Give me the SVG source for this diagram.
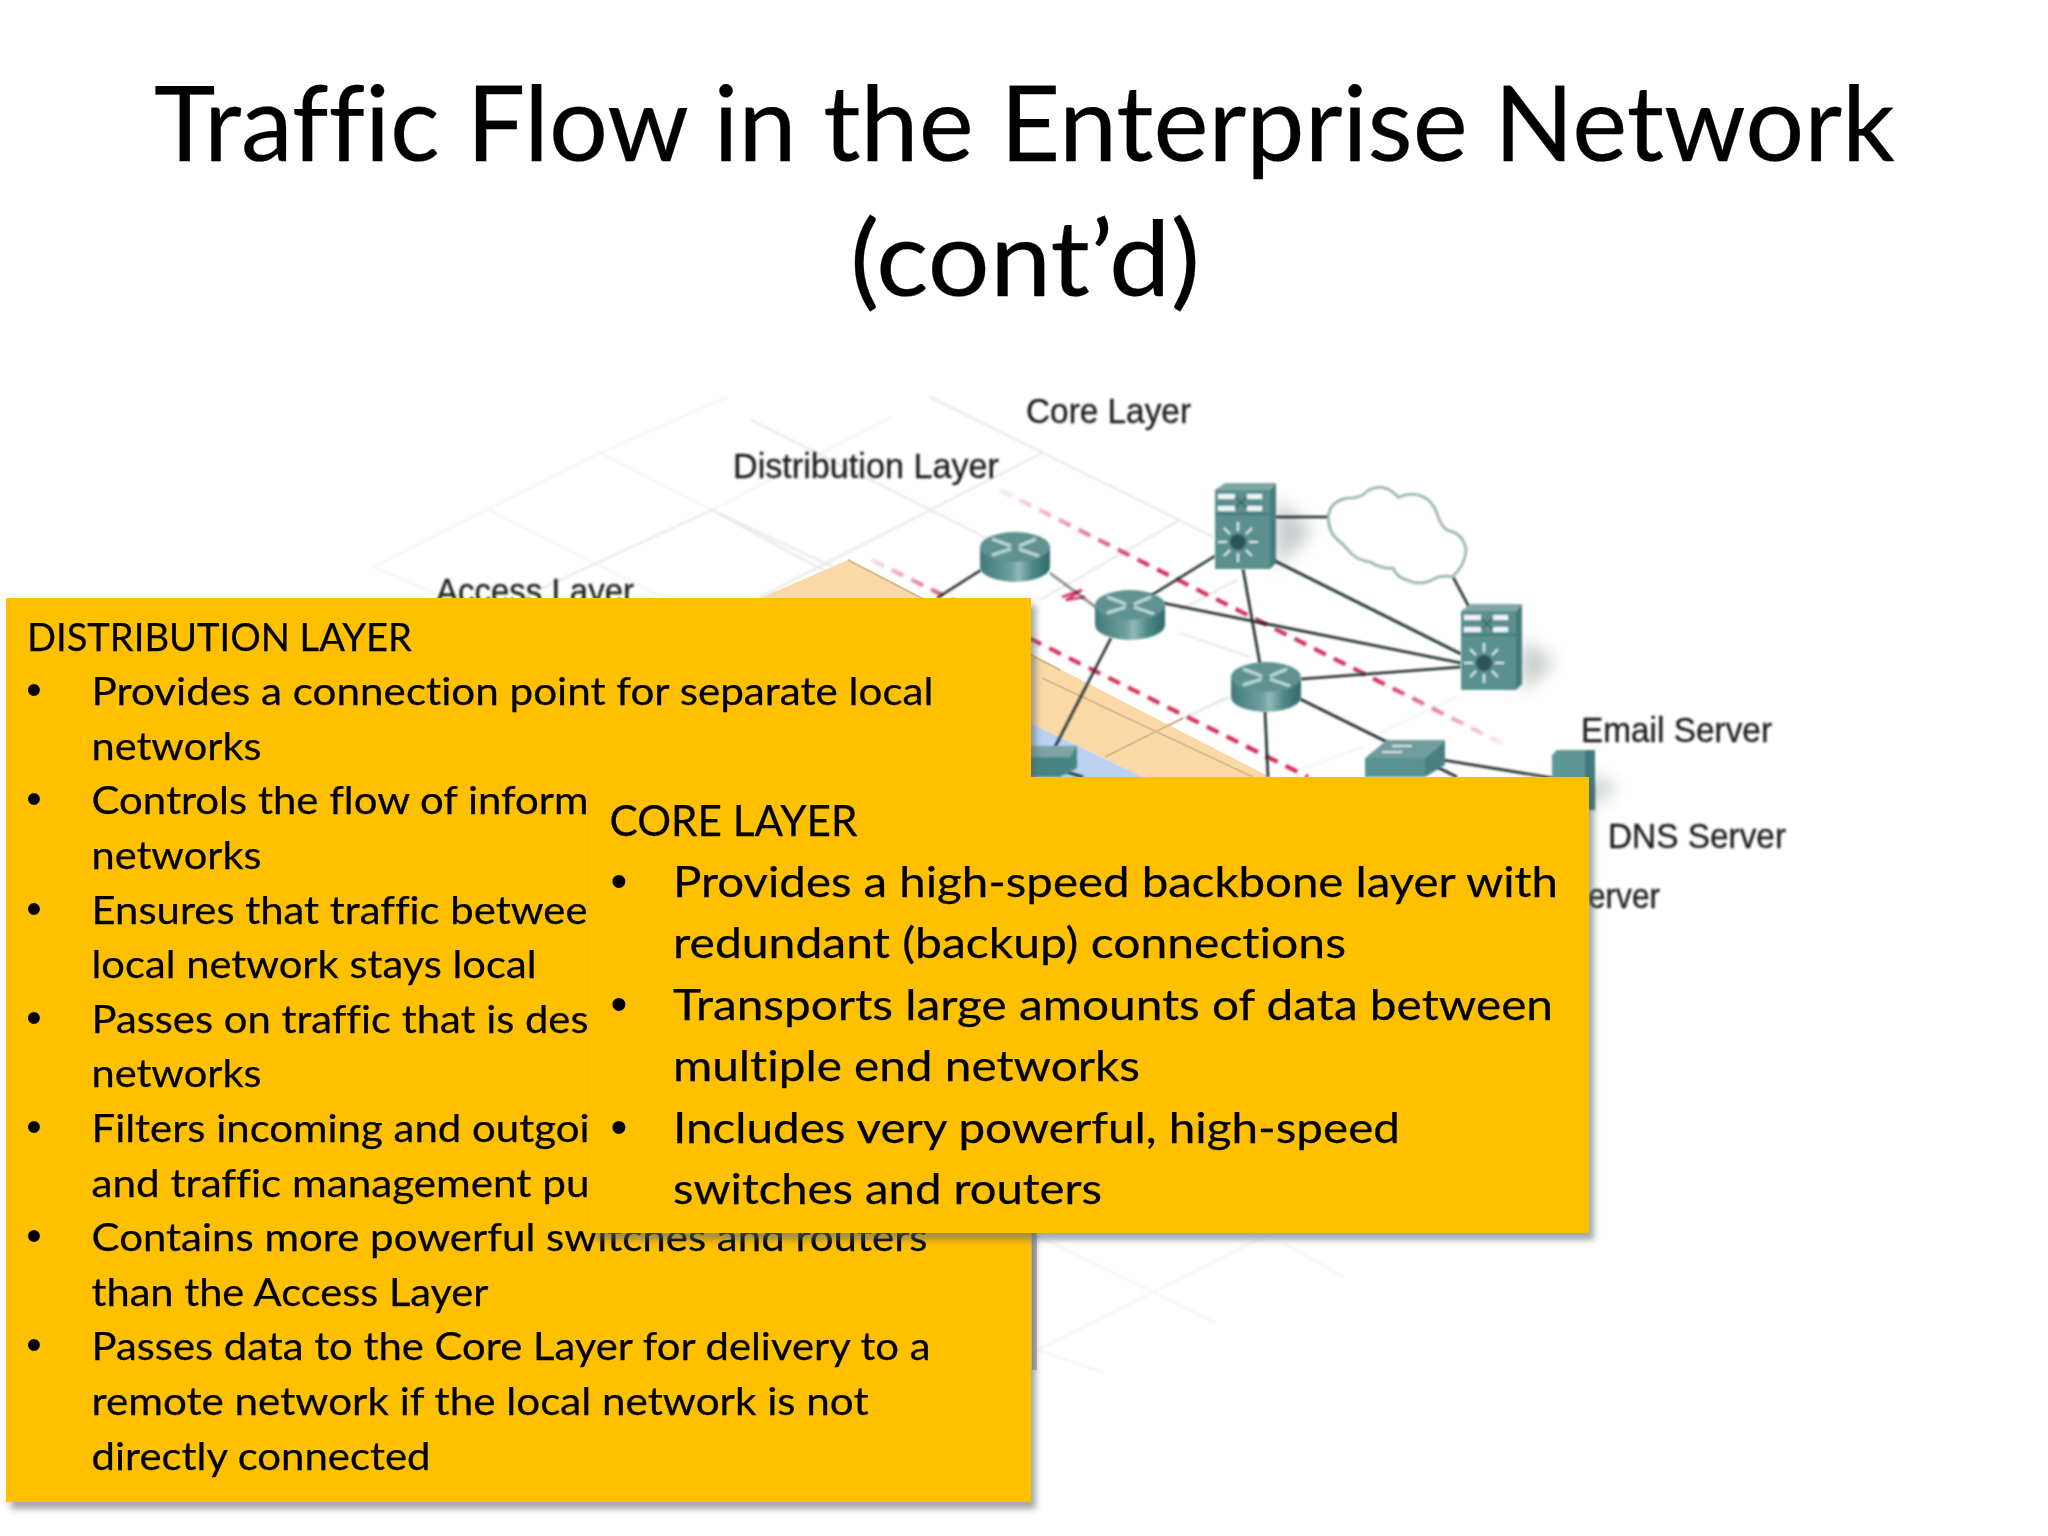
<svg xmlns="http://www.w3.org/2000/svg" width="2048" height="1536" viewBox="0 0 2048 1536">
<style>
.t{font-family:"Lato","Liberation Sans",sans-serif;fill:#000;stroke:#000;stroke-width:.25;font-variant-ligatures:none;}
.title{font-size:104px;}
.d{font-size:38.5px;}
.c{font-size:43px;}
.b{font-family:"Liberation Sans",sans-serif;text-anchor:middle;stroke:none;}
.d .b{font-size:44px;}
.c .b{font-size:48px;}
.lbl{font-family:"Liberation Sans",Arial,sans-serif;font-size:35px;fill:#1c1c1c;stroke:#1c1c1c;stroke-width:.3;}
.grid{stroke:#e8e8e8;stroke-width:2.2;fill:none;}
.faint{stroke:#f4f4f4;stroke-width:2.2;fill:none;}
.tan{stroke:#d9bd8f;stroke-width:2;fill:none;}
.link{stroke:#1e2a2a;stroke-width:2.6;fill:none;}
.dash{stroke-width:4.2;stroke-dasharray:13 9;fill:none;}
.box{fill:#FFC000;filter:url(#sh);}
</style>
<defs>
<filter id="sh" x="-5%" y="-5%" width="110%" height="110%"><feDropShadow dx="5" dy="7" stdDeviation="3" flood-color="#5a6464" flood-opacity="0.55"/></filter>
<filter id="soft" x="-20%" y="-20%" width="140%" height="140%"><feGaussianBlur stdDeviation="0.8"/></filter>
<filter id="blurS" x="-80%" y="-80%" width="260%" height="260%"><feGaussianBlur stdDeviation="9"/></filter>
<linearGradient id="cyl" x1="0" x2="1" y1="0" y2="0"><stop offset="0" stop-color="#3f7a7a"/><stop offset="0.45" stop-color="#6f9f9e"/><stop offset="0.55" stop-color="#93b9b7"/><stop offset="0.75" stop-color="#4f8888"/><stop offset="1" stop-color="#2f6a6a"/></linearGradient>
<linearGradient id="fadeUp" gradientUnits="userSpaceOnUse" x1="1000" y1="490" x2="1505" y2="745"><stop offset="0" stop-color="#d22a55" stop-opacity="0.1"/><stop offset="0.3" stop-color="#d22a55" stop-opacity="0.95"/><stop offset="0.75" stop-color="#d22a55" stop-opacity="0.95"/><stop offset="1" stop-color="#d22a55" stop-opacity="0.08"/></linearGradient>
<linearGradient id="fadeLow" gradientUnits="userSpaceOnUse" x1="872" y1="560" x2="1308" y2="777"><stop offset="0" stop-color="#d22a55" stop-opacity="0.15"/><stop offset="0.2" stop-color="#d22a55" stop-opacity="0.9"/><stop offset="1" stop-color="#d22a55"/></linearGradient>
<g id="router">
<path d="M-35 -10 V10 A35 15 0 0 0 35 10 V-10Z" fill="url(#cyl)"/>
<ellipse cx="0" cy="-10" rx="35" ry="15" fill="#5f9291"/>
<path d="M-23 -18 L-4 -11 M21 -18 L4 -11 M-23 -2 L-4 -8 M24 -1 L4 -8" stroke="#bcd9d6" stroke-width="3" fill="none"/>
</g>
<g id="mls">
<path d="M0 7 H55 V86 H0Z" fill="#5a9090"/>
<path d="M55 7 L61 0 V80 L55 86Z" fill="#477c7c"/>
<path d="M0 7 L10 0 H61 L55 7Z" fill="#7fa7a6"/>
<path d="M0 31 H55" stroke="#3f7676" stroke-width="1.500"/>
<path d="M3 13.500 H20 M32 13.500 H47 M3 25.500 H20 M32 25.500 H47" stroke="#eef5f4" stroke-width="5"/>
<path d="M20 14 L32 25 M20 25 L32 14" stroke="#2f5f5f" stroke-width="1.500"/>
<circle cx="23" cy="59" r="8" fill="#2d5454"/>
<path d="M23 39 V48 M23 70 V79 M3 59 H12 M34 59 H43 M9 45 L15 51 M37 45 L31 51 M9 73 L15 67 M37 73 L31 67" stroke="#d8eae8" stroke-width="2.200"/>
</g>
</defs>
<rect width="2048" height="1536" fill="#fff"/>

<g id="floor-grid" filter="url(#soft)">
<g class="faint">
<path d="M600 453 L727 397"/><path d="M712 510 L891 417"/>
<path d="M373 567 L600 453"/><path d="M600 453 L712 510"/><path d="M489 510 L663 597"/><path d="M373 567 L445 597"/>
<path d="M1040 1237 L1216 1323"/><path d="M1038 1350 L1267 1235"/><path d="M1038 1350 L1104 1373"/><path d="M1283 1243 L1344 1277"/>
<path d="M1287 567 L1460 650"/><path d="M1300 770 L1363 747"/><path d="M1380 733 L1457 697"/>
</g>
<g class="grid">
<path d="M712 510 L833 567"/>
<path d="M523 597 L712 510"/><path d="M712 510 L860 590"/>
<path d="M760 597 L1042 453"/><path d="M751 420 L1010 550"/><path d="M930 397 L1213 537"/>
<path d="M1180 610 L1237 580"/><path d="M1180 633 L1250 657"/><path d="M1180 720 L1230 697"/>
<path d="M1040 600 L1180 520"/><path d="M1105 757 L1227 697"/>
</g>
</g>
<g id="zones">
<path d="M848 560 L1270 777 H1143 L1030 723 L760 598Z" fill="#fbd9a6"/>
<path d="M1030 723 L1143 777 H1030Z" fill="#bcd2f0"/>
<path class="tan" d="M1042 678 L1253 777"/><path class="tan" d="M1105 757 L1183 718"/><path class="tan" d="M848 560 L1060 670"/>
</g>
<g id="layer-lines" filter="url(#soft)">
<path class="dash" stroke="url(#fadeUp)" d="M1000 490 L1505 745"/>
<path class="dash" stroke="url(#fadeLow)" d="M872 560 L1308 777"/>
<path d="M1062 597 L1082 590 L1066 600 L1085 597" stroke="#d8345f" stroke-width="2.600" fill="none"/>
</g>
<g id="device-shadows" filter="url(#blurS)" fill="#8e9898" opacity="0.55">
<path d="M1276 500 L1312 530 L1276 568Z"/>
<path d="M1522 640 L1555 662 L1522 692Z"/>
<path d="M1592 775 L1616 785 L1594 808Z"/>
</g>
<g id="connectors" filter="url(#soft)">
<path class="link" d="M1275 517 H1330"/>
<path class="link" d="M1453 577 L1469 607"/>
<path class="link" d="M981 570 L937 598"/>
<path class="link" stroke-opacity="0.55" d="M1050 573 L1097 608"/>
<path class="link" d="M1147 598 L1215 556"/>
<path class="link" d="M1163 603 L1461 663"/>
<path class="link" d="M1243 569 L1260 664"/>
<path class="link" d="M1273 560 L1461 654"/>
<path class="link" d="M1301 679 L1461 667"/>
<path class="link" d="M1300 699 L1387 742"/>
<path class="link" d="M1265 711 L1268 777"/>
<path class="link" d="M1111 638 L1055 747"/>
<path class="link" d="M1443 760 L1553 778"/>
<path class="link" d="M1437 767 L1457 777"/>
<path class="link" d="M1067 772 L1083 777"/>
</g>
<g filter="url(#soft)">
<g id="router-1" transform="translate(1015 557)"><use href="#router"/></g>
<g id="router-2" transform="translate(1130 615)"><use href="#router"/></g>
<g id="router-3" transform="translate(1266 687)"><use href="#router"/></g>
<g id="core-switch-1" transform="translate(1215 483)"><use href="#mls"/></g>
<g id="core-switch-2" transform="translate(1461 604)"><use href="#mls"/></g>
<g id="cloud" transform="translate(1180 470) scale(.3333)"><path d="M445 140 Q450 95 500 85 Q530 85 548 75 Q585 40 625 58 Q645 70 655 82 Q705 60 745 90 Q765 110 770 130 Q785 175 805 182 Q850 190 858 240 Q855 285 818 320 Q785 315 765 325 Q725 350 680 330 Q650 320 640 295 Q600 295 570 275 Q525 270 505 240 Q490 225 480 215 Q445 190 445 140Z" fill="#fff" stroke="#9ab8b5" stroke-width="9"/></g>
<g id="access-switch-1"><path d="M1030 746 H1077 V768 L1060 777 H1030Z" fill="#4a8484"/><path d="M1030 746 H1077 L1070 757 H1030Z" fill="#7ba5a3"/></g>
<g id="access-switch-2"><path d="M1365 758 H1425 V777 H1365Z" fill="#5a9191"/><path d="M1425 758 L1445 740 V765 L1425 777Z" fill="#4a8181"/><path d="M1365 758 L1387 740 H1445 L1425 758Z" fill="#6f9c9b"/><path d="M1392 746 H1412 M1382 752 H1402" stroke="#d5e6e4" stroke-width="2"/></g>
<g id="email-server"><path d="M1552 755 L1557 750 H1595 V810 H1552Z" fill="#5f9796"/><path d="M1585 750 H1595 V810 H1585Z" fill="#3f7a7a"/></g>
</g>
<g id="labels" filter="url(#soft)">
<text class="lbl" x="1026" y="423" textLength="165" lengthAdjust="spacingAndGlyphs">Core Layer</text>
<text class="lbl" x="733" y="478" textLength="266" lengthAdjust="spacingAndGlyphs">Distribution Layer</text>
<text class="lbl" x="436" y="603" textLength="198" lengthAdjust="spacingAndGlyphs">Access Layer</text>
<text class="lbl" x="1581" y="742" textLength="191" lengthAdjust="spacingAndGlyphs">Email Server</text>
<text class="lbl" x="1608" y="848" textLength="178" lengthAdjust="spacingAndGlyphs">DNS Server</text>
<text class="lbl" x="1588" y="908" textLength="72" lengthAdjust="spacingAndGlyphs">erver</text>
</g>

<g id="title" class="t title">
<text x="154" y="160.500" textLength="1741" lengthAdjust="spacingAndGlyphs">Traffic Flow in the Enterprise Network</text>
<text x="850" y="296" textLength="350" lengthAdjust="spacingAndGlyphs">(cont’d)</text>
</g>

<g id="distribution-layer">
<rect class="box" x="6" y="598" width="1025" height="904"/>
<path d="M1032 1233 h5 v137 h-5Z" fill="#444" opacity="0.35"/>
<g class="t d">
<text x="27" y="650.500" textLength="385" lengthAdjust="spacingAndGlyphs">DISTRIBUTION LAYER</text>
<text class="b" x="34" y="705">•</text><text x="91.500" y="705" textLength="842" lengthAdjust="spacingAndGlyphs">Provides a connection point for separate local</text>
<text x="91.500" y="759.700" textLength="170" lengthAdjust="spacingAndGlyphs">networks</text>
<text class="b" x="34" y="814.300">•</text><text x="91.500" y="814.300" textLength="497" lengthAdjust="spacingAndGlyphs">Controls the flow of inform</text>
<text x="91.500" y="868.900" textLength="170" lengthAdjust="spacingAndGlyphs">networks</text>
<text class="b" x="34" y="923.500">•</text><text x="91.500" y="923.500" textLength="496" lengthAdjust="spacingAndGlyphs">Ensures that traffic betwee</text>
<text x="91.500" y="978.100" textLength="445" lengthAdjust="spacingAndGlyphs">local network stays local</text>
<text class="b" x="34" y="1032.700">•</text><text x="91.500" y="1032.700" textLength="497" lengthAdjust="spacingAndGlyphs">Passes on traffic that is des</text>
<text x="91.500" y="1087.300" textLength="170" lengthAdjust="spacingAndGlyphs">networks</text>
<text class="b" x="34" y="1141.900">•</text><text x="91.500" y="1141.900" textLength="498" lengthAdjust="spacingAndGlyphs">Filters incoming and outgoi</text>
<text x="91.500" y="1196.500" textLength="498" lengthAdjust="spacingAndGlyphs">and traffic management pu</text>
<text class="b" x="34" y="1251.100">•</text><text x="91.500" y="1251.100" textLength="836" lengthAdjust="spacingAndGlyphs">Contains more powerful switches and routers</text>
<text x="91.500" y="1305.700" textLength="397" lengthAdjust="spacingAndGlyphs">than the Access Layer</text>
<text class="b" x="34" y="1360.300">•</text><text x="91.500" y="1360.300" textLength="839" lengthAdjust="spacingAndGlyphs">Passes data to the Core Layer for delivery to a</text>
<text x="91.500" y="1414.900" textLength="777" lengthAdjust="spacingAndGlyphs">remote network if the local network is not</text>
<text x="91.500" y="1469.500" textLength="339" lengthAdjust="spacingAndGlyphs">directly connected</text>
</g>
</g>

<g id="core-layer">
<rect class="box" x="590" y="777" width="999" height="456"/>
<g class="t c">
<text x="609.500" y="836" textLength="248" lengthAdjust="spacingAndGlyphs">CORE LAYER</text>
<text class="b" x="619" y="896.500">•</text><text x="673" y="896.500" textLength="885" lengthAdjust="spacingAndGlyphs">Provides a high-speed backbone layer with</text>
<text x="673" y="958" textLength="673" lengthAdjust="spacingAndGlyphs">redundant (backup) connections</text>
<text class="b" x="619" y="1019.500">•</text><text x="673" y="1019.500" textLength="880" lengthAdjust="spacingAndGlyphs">Transports large amounts of data between</text>
<text x="673" y="1081" textLength="467" lengthAdjust="spacingAndGlyphs">multiple end networks</text>
<text class="b" x="619" y="1142.500">•</text><text x="673" y="1142.500" textLength="727" lengthAdjust="spacingAndGlyphs">Includes very powerful, high-speed</text>
<text x="673" y="1204" textLength="429" lengthAdjust="spacingAndGlyphs">switches and routers</text>
</g>
</g>
</svg>
